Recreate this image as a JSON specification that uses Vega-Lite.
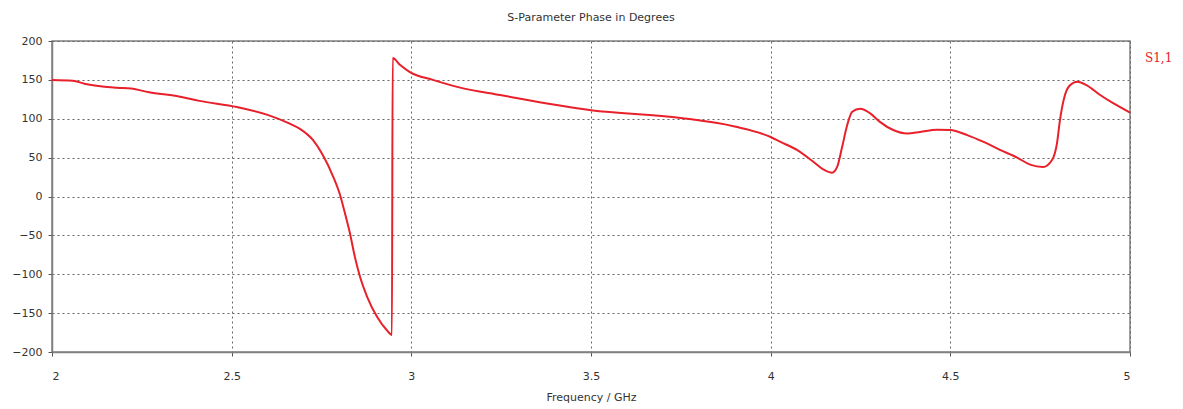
{
  "$schema": "https://vega.github.io/schema/vega-lite/v6.json",
  "width": 1078,
  "height": 311,
  "autosize": {"type": "none"},
  "padding": {"left": 52, "top": 41, "right": 53, "bottom": 57},
  "background": "white",
  "title": {
    "text": "S-Parameter Phase in Degrees",
    "font": "DejaVu Sans",
    "fontSize": 11,
    "fontWeight": "normal",
    "color": "#333333",
    "offset": 12,
    "anchor": "middle"
  },
  "config": {
    "view": {"stroke": "#808080", "strokeWidth": 1.5}
  },
  "data": {
    "values": [
      {"f": 2.0, "p": 150, "s": "S1,1"},
      {"f": 2.058, "p": 149, "s": "S1,1"},
      {"f": 2.09, "p": 145, "s": "S1,1"},
      {"f": 2.18, "p": 140, "s": "S1,1"},
      {"f": 2.22, "p": 139, "s": "S1,1"},
      {"f": 2.27, "p": 134, "s": "S1,1"},
      {"f": 2.35, "p": 129, "s": "S1,1"},
      {"f": 2.41, "p": 123, "s": "S1,1"},
      {"f": 2.515, "p": 115, "s": "S1,1"},
      {"f": 2.6, "p": 105, "s": "S1,1"},
      {"f": 2.66, "p": 94, "s": "S1,1"},
      {"f": 2.69, "p": 87, "s": "S1,1"},
      {"f": 2.726, "p": 72.7, "s": "S1,1"},
      {"f": 2.754, "p": 53, "s": "S1,1"},
      {"f": 2.782, "p": 26, "s": "S1,1"},
      {"f": 2.8, "p": 4.5, "s": "S1,1"},
      {"f": 2.815, "p": -21, "s": "S1,1"},
      {"f": 2.829, "p": -47, "s": "S1,1"},
      {"f": 2.843, "p": -78, "s": "S1,1"},
      {"f": 2.857, "p": -103, "s": "S1,1"},
      {"f": 2.877, "p": -129, "s": "S1,1"},
      {"f": 2.905, "p": -155, "s": "S1,1"},
      {"f": 2.932, "p": -172, "s": "S1,1"},
      {"f": 2.946, "p": -178, "s": "S1,1"},
      {"f": 2.948, "p": 178, "s": "S1,1"},
      {"f": 2.969, "p": 169, "s": "S1,1"},
      {"f": 2.996, "p": 160, "s": "S1,1"},
      {"f": 3.06, "p": 150, "s": "S1,1"},
      {"f": 3.136, "p": 140, "s": "S1,1"},
      {"f": 3.247, "p": 130.5, "s": "S1,1"},
      {"f": 3.5, "p": 111, "s": "S1,1"},
      {"f": 3.75, "p": 101, "s": "S1,1"},
      {"f": 3.9, "p": 90, "s": "S1,1"},
      {"f": 4.0, "p": 76.5, "s": "S1,1"},
      {"f": 4.026, "p": 70.5, "s": "S1,1"},
      {"f": 4.073, "p": 60, "s": "S1,1"},
      {"f": 4.118, "p": 45, "s": "S1,1"},
      {"f": 4.146, "p": 35, "s": "S1,1"},
      {"f": 4.171, "p": 30.6, "s": "S1,1"},
      {"f": 4.185, "p": 38, "s": "S1,1"},
      {"f": 4.199, "p": 64, "s": "S1,1"},
      {"f": 4.213, "p": 92, "s": "S1,1"},
      {"f": 4.227, "p": 109, "s": "S1,1"},
      {"f": 4.249, "p": 113, "s": "S1,1"},
      {"f": 4.277, "p": 107, "s": "S1,1"},
      {"f": 4.304, "p": 96, "s": "S1,1"},
      {"f": 4.341, "p": 85.5, "s": "S1,1"},
      {"f": 4.38, "p": 81, "s": "S1,1"},
      {"f": 4.416, "p": 83, "s": "S1,1"},
      {"f": 4.463, "p": 86, "s": "S1,1"},
      {"f": 4.499, "p": 85.5, "s": "S1,1"},
      {"f": 4.547, "p": 79, "s": "S1,1"},
      {"f": 4.591, "p": 70.5, "s": "S1,1"},
      {"f": 4.638, "p": 60, "s": "S1,1"},
      {"f": 4.686, "p": 50, "s": "S1,1"},
      {"f": 4.722, "p": 41, "s": "S1,1"},
      {"f": 4.758, "p": 38, "s": "S1,1"},
      {"f": 4.783, "p": 47, "s": "S1,1"},
      {"f": 4.797, "p": 69, "s": "S1,1"},
      {"f": 4.805, "p": 98, "s": "S1,1"},
      {"f": 4.819, "p": 130.5, "s": "S1,1"},
      {"f": 4.833, "p": 143, "s": "S1,1"},
      {"f": 4.853, "p": 147.6, "s": "S1,1"},
      {"f": 4.88, "p": 143, "s": "S1,1"},
      {"f": 4.917, "p": 130.5, "s": "S1,1"},
      {"f": 4.953, "p": 120, "s": "S1,1"},
      {"f": 5.0, "p": 108, "s": "S1,1"}
    ]
  },
  "mark": {"type": "line", "strokeWidth": 2, "interpolate": "monotone"},
  "encoding": {
    "x": {
      "field": "f",
      "type": "quantitative",
      "scale": {"domain": [2, 5], "nice": false, "zero": false},
      "axis": {
        "title": "Frequency / GHz",
        "values": [2, 2.5, 3, 3.5, 4, 4.5, 5],
        "format": "~g",
        "grid": true,
        "gridColor": "#666666",
        "gridDash": [2, 3],
        "gridWidth": 1,
        "domainColor": "#808080",
        "domainWidth": 1.5,
        "tickColor": "#555555",
        "tickSize": 4,
        "labelFont": "DejaVu Sans",
        "labelFontSize": 11,
        "labelColor": "#333333",
        "labelPadding": 14,
        "titleFont": "DejaVu Sans",
        "titleFontSize": 11,
        "titleFontWeight": "normal",
        "titleColor": "#333333",
        "titlePadding": 10
      }
    },
    "y": {
      "field": "p",
      "type": "quantitative",
      "scale": {"domain": [-200, 200], "nice": false},
      "axis": {
        "title": null,
        "values": [-200, -150, -100, -50, 0, 50, 100, 150, 200],
        "grid": true,
        "gridColor": "#666666",
        "gridDash": [2, 3],
        "gridWidth": 1,
        "domainColor": "#808080",
        "domainWidth": 1.5,
        "tickColor": "#555555",
        "tickSize": 4,
        "labelFont": "DejaVu Sans",
        "labelFontSize": 11,
        "labelColor": "#333333",
        "labelPadding": 6
      }
    },
    "color": {
      "field": "s",
      "type": "nominal",
      "scale": {"range": ["#e8202a"]},
      "legend": {
        "title": null,
        "orient": "none",
        "legendX": 1077,
        "legendY": 11,
        "symbolSize": 0,
        "symbolOpacity": 0,
        "labelFont": "DejaVu Serif",
        "labelFontSize": 12,
        "labelColor": "#e8202a"
      }
    }
  }
}
